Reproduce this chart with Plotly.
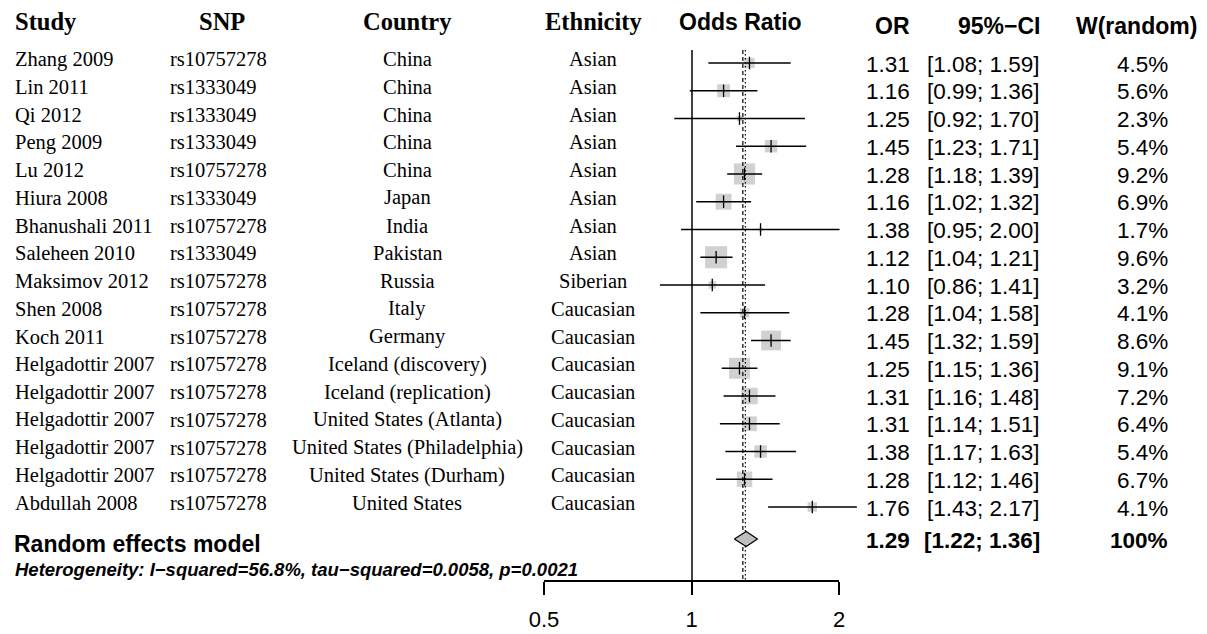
import math
import plotly.graph_objects as go

# ---------------- data ----------------
studies = ["Zhang 2009", "Lin 2011", "Qi 2012", "Peng 2009", "Lu 2012", "Hiura 2008",
           "Bhanushali 2011", "Saleheen 2010", "Maksimov 2012", "Shen 2008", "Koch 2011",
           "Helgadottir 2007", "Helgadottir 2007", "Helgadottir 2007", "Helgadottir 2007",
           "Helgadottir 2007", "Abdullah 2008"]
snps = ["rs10757278", "rs1333049", "rs1333049", "rs1333049", "rs10757278", "rs1333049",
        "rs10757278", "rs1333049", "rs10757278", "rs10757278", "rs10757278",
        "rs10757278", "rs10757278", "rs10757278", "rs10757278", "rs10757278", "rs10757278"]
countries = ["China", "China", "China", "China", "China", "Japan", "India", "Pakistan",
             "Russia", "Italy", "Germany", "Iceland (discovery)", "Iceland (replication)",
             "United States (Atlanta)", "United States (Philadelphia)",
             "United States (Durham)", "United States"]
ethnicities = ["Asian", "Asian", "Asian", "Asian", "Asian", "Asian", "Asian", "Asian",
               "Siberian", "Caucasian", "Caucasian", "Caucasian", "Caucasian", "Caucasian",
               "Caucasian", "Caucasian", "Caucasian"]
odds = [1.31, 1.16, 1.25, 1.45, 1.28, 1.16, 1.38, 1.12, 1.10, 1.28, 1.45, 1.25, 1.31,
        1.31, 1.38, 1.28, 1.76]
lower = [1.08, 0.99, 0.92, 1.23, 1.18, 1.02, 0.95, 1.04, 0.86, 1.04, 1.32, 1.15, 1.16,
         1.14, 1.17, 1.12, 1.43]
upper = [1.59, 1.36, 1.70, 1.71, 1.39, 1.32, 2.00, 1.21, 1.41, 1.58, 1.59, 1.36, 1.48,
         1.51, 1.63, 1.46, 2.17]
weights = [4.5, 5.6, 2.3, 5.4, 9.2, 6.9, 1.7, 9.6, 3.2, 4.1, 8.6, 9.1, 7.2, 6.4, 5.4,
           6.7, 4.1]

random_or, random_lower, random_upper = 1.29, 1.22, 1.36
random_line = 1.285
fixed_line = 1.27
heterogeneity = "Heterogeneity: I\u2212squared=56.8%, tau\u2212squared=0.0058, p=0.0021"
tick_values = [0.5, 1, 2]
tick_labels = ["0.5", "1", "2"]

# ---------------- layout constants ----------------
OFF = 8                      # page body margin of the html page
W, H = 1207 - OFF, 634 - OFF  # figure size (so it ends at the window edge)
TOP_PX, BOT_PX = 50, 580      # plot area in window pixels
MT = TOP_PX - OFF
MB = H - (BOT_PX - OFF)
PLOT_H = BOT_PX - TOP_PX
SERIF = "Liberation Serif"
SANS = "Liberation Sans"
ROW0_PX, ROW_STEP = 63.0, 27.75
Y_TOP = (TOP_PX - ROW0_PX) / ROW_STEP
Y_BOT = (BOT_PX - ROW0_PX) / ROW_STEP
random_row = 17.15

# log axis: window px = 692 + 147.5 * log2(OR)
PX_PER_DEC = 147.5 / math.log10(2)
X1_PX = 692 - OFF
x_range = [-X1_PX / PX_PER_DEC, (W - X1_PX) / PX_PER_DEC]

rows = list(range(len(studies)))

fig = go.Figure()

# squares (weights)
fig.add_trace(go.Scatter(
    x=odds, y=rows, mode="markers", hoverinfo="skip",
    marker=dict(symbol="square", size=[2.3 * w for w in weights], color="#bebebe",
                line=dict(width=0))))

# confidence intervals
xs, ys = [], []
for lo, hi, r in zip(lower, upper, rows):
    xs += [lo, hi, None]
    ys += [r, r, None]
fig.add_trace(go.Scatter(x=xs, y=ys, mode="lines", hoverinfo="skip",
                         line=dict(color="black", width=1.5)))

# point estimate ticks
fig.add_trace(go.Scatter(
    x=odds, y=rows, mode="markers", hoverinfo="skip",
    marker=dict(symbol="line-ns", size=9, color="black",
                line=dict(color="black", width=1.3))))

# reference lines
fig.add_trace(go.Scatter(x=[1, 1], y=[Y_TOP, Y_BOT], mode="lines", hoverinfo="skip",
                         line=dict(color="black", width=1.5)))
fig.add_trace(go.Scatter(x=[fixed_line, fixed_line], y=[Y_TOP, Y_BOT], mode="lines",
                         hoverinfo="skip",
                         line=dict(color="black", width=1.2, dash="4px,3px")))
fig.add_trace(go.Scatter(x=[random_line, random_line], y=[Y_TOP, Y_BOT], mode="lines",
                         hoverinfo="skip",
                         line=dict(color="black", width=1.2, dash="1.5px,2.5px")))

# summary diamond
dh = 0.27
fig.add_trace(go.Scatter(
    x=[random_lower, random_or, random_upper, random_or, random_lower],
    y=[random_row, random_row - dh, random_row, random_row + dh, random_row],
    mode="lines", fill="toself", fillcolor="#bebebe", hoverinfo="skip",
    line=dict(color="black", width=1.2)))

# axis subplot (only for the 0.5 - 2 axis)
fig.add_trace(go.Scatter(x=[0.5, 2], y=[0, 0], xaxis="x2", yaxis="y2", mode="markers",
                         marker=dict(opacity=0), hoverinfo="skip"))

annotations = []


def txt(xpx, y, text, anchor, family, size, bold=False, italic=False, yref="y", yshift=0):
    if bold:
        text = "<b>" + text + "</b>"
    if italic:
        text = "<i>" + text + "</i>"
    annotations.append(dict(x=(xpx - OFF) / W, xref="paper", y=y, yref=yref, text=text,
                            xanchor=anchor, yanchor="middle", showarrow=False,
                            yshift=yshift,
                            font=dict(family=family, size=size, color="black")))


def py(px):
    return (BOT_PX - px) / PLOT_H


# headers
txt(13, py(21.5), "Study", "left", SERIF, 24.5, bold=True, yref="paper")
txt(222, py(21.5), "SNP", "center", SERIF, 24.5, bold=True, yref="paper")
txt(407, py(21.5), "Country", "center", SERIF, 24.5, bold=True, yref="paper")
txt(593, py(21.5), "Ethnicity", "center", SERIF, 24.5, bold=True, yref="paper")
txt(740, py(22), "Odds Ratio", "center", SANS, 23, bold=True, yref="paper")
txt(912, py(26), "OR", "right", SANS, 23, bold=True, yref="paper")
txt(1042, py(26), "95%\u2212CI", "right", SANS, 23, bold=True, yref="paper")
txt(1199, py(26), "W(random)", "right", SANS, 23, bold=True, yref="paper")

# rows
for r, s, snp, c, e, o, lo, hi, w in zip(rows, studies, snps, countries, ethnicities,
                                          odds, lower, upper, weights):
    txt(13, r, s, "left", SERIF, 20.5, yshift=4)
    txt(168, r, snp, "left", SERIF, 20.5, yshift=4)
    txt(407, r, c, "center", SERIF, 20.5, yshift=4)
    txt(593, r, e, "center", SERIF, 20.5, yshift=4)
    txt(912, r, f"{o:.2f}", "right", SANS, 22.5, yshift=-1)
    txt(1042, r, f"[{lo:.2f}; {hi:.2f}]", "right", SANS, 22.5, yshift=-1)
    txt(1170, r, f"{w:.1f}%", "right", SANS, 22.5, yshift=-1)

# summary row
txt(12, random_row, "Random effects model", "left", SANS, 23, bold=True, yshift=-5)
txt(912, random_row, f"{random_or:.2f}", "right", SANS, 22.5, bold=True, yshift=-2)
txt(1042, random_row, f"[{random_lower:.2f}; {random_upper:.2f}]", "right", SANS, 22.5,
    bold=True, yshift=-2)
txt(1170, random_row, "100%", "right", SANS, 22.5, bold=True, yshift=-2)
txt(13, py(569), heterogeneity, "left", SANS, 18.5, bold=True, italic=True, yref="paper")

fig.update_layout(
    template="none",
    width=W, height=H,
    margin=dict(l=0, r=0, t=MT, b=MB, pad=0, autoexpand=False),
    paper_bgcolor="white", plot_bgcolor="rgba(0,0,0,0)",
    showlegend=False,
    xaxis=dict(type="log", domain=[0, 1], range=x_range, visible=False,
               automargin=False, fixedrange=True),
    yaxis=dict(range=[Y_BOT, Y_TOP], domain=[0, 1], visible=False, automargin=False,
               fixedrange=True),
    xaxis2=dict(type="log", domain=[(544 - OFF) / W, (839 - OFF) / W], anchor="y2",
                range=[math.log10(0.5), math.log10(2)],
                showline=True, linecolor="black", linewidth=1.5,
                ticks="outside", ticklen=13, tickwidth=1.5, tickcolor="black",
                tickvals=tick_values, ticktext=tick_labels, ticklabelstandoff=6,
                tickfont=dict(family=SANS, size=22, color="black"),
                showgrid=False, zeroline=False, automargin=False, fixedrange=True),
    yaxis2=dict(range=[0, 1], domain=[0, 1], anchor="x2", visible=False,
                automargin=False, fixedrange=True),
    annotations=annotations,
)

fig.write_html("out.html")
